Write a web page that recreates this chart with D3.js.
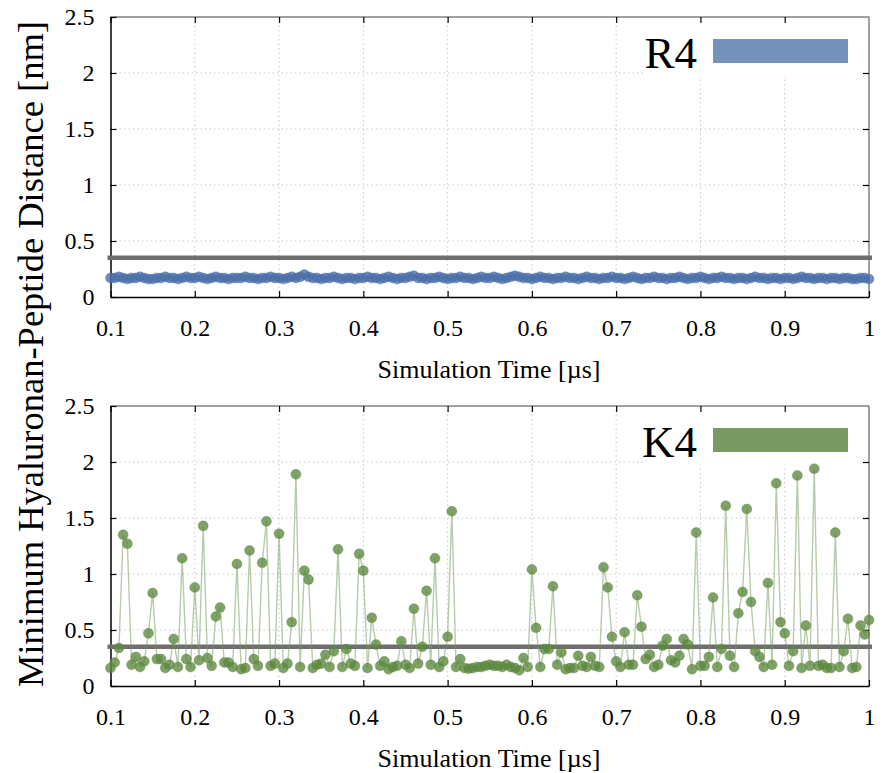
<!DOCTYPE html>
<html>
<head>
<meta charset="utf-8">
<script src="https://cdn.jsdelivr.net/npm/d3@7"></script>
<style>
  body { margin: 0; background: #fff; }
  svg text { font-family: "Liberation Serif", "DejaVu Serif", serif; fill: #000; }
</style>
</head>
<body>
<svg id="chart" width="883" height="773"></svg>
<script>
// Sampling of the trajectory: first frame at 0.1 µs, one frame every 0.005 µs
const startTime = 0.1;
const frameStep = 0.005;

const timeTicks = [0.1, 0.2, 0.3, 0.4, 0.5, 0.6, 0.7, 0.8, 0.9, 1];
const timeTickLabels = ["0.1", "0.2", "0.3", "0.4", "0.5", "0.6", "0.7", "0.8", "0.9", "1"];
const distTicks = [0, 0.5, 1, 1.5, 2, 2.5];
const distTickLabels = ["0", "0.5", "1", "1.5", "2", "2.5"];

// Contact cutoff [nm]
const contactCutoff = 0.35;

// Minimum hyaluronan–peptide distance [nm] per frame
const r4Distance = [
  0.17,0.17,0.18,0.17,0.16,0.17,0.17,0.18,0.17,0.16,
  0.16,0.17,0.17,0.18,0.17,0.17,0.16,0.17,0.18,0.17,
  0.17,0.18,0.17,0.16,0.17,0.18,0.17,0.17,0.16,0.17,
  0.17,0.17,0.18,0.17,0.17,0.16,0.17,0.17,0.18,0.17,
  0.17,0.16,0.17,0.18,0.17,0.18,0.20,0.18,0.17,0.17,
  0.16,0.17,0.17,0.18,0.17,0.16,0.17,0.17,0.16,0.17,
  0.17,0.18,0.17,0.17,0.16,0.17,0.18,0.17,0.16,0.17,
  0.17,0.18,0.19,0.17,0.17,0.16,0.17,0.17,0.18,0.17,
  0.16,0.17,0.17,0.18,0.17,0.17,0.16,0.17,0.18,0.17,
  0.17,0.18,0.17,0.16,0.17,0.18,0.19,0.18,0.17,0.17,
  0.16,0.17,0.18,0.17,0.17,0.16,0.17,0.17,0.18,0.17,
  0.17,0.16,0.17,0.18,0.17,0.17,0.16,0.17,0.17,0.18,
  0.17,0.17,0.16,0.17,0.18,0.17,0.16,0.17,0.17,0.18,
  0.17,0.17,0.16,0.17,0.17,0.18,0.17,0.16,0.17,0.17,
  0.18,0.17,0.16,0.17,0.17,0.18,0.17,0.17,0.16,0.17,
  0.17,0.16,0.17,0.18,0.17,0.17,0.16,0.17,0.17,0.16,
  0.17,0.17,0.16,0.17,0.18,0.17,0.17,0.16,0.17,0.17,
  0.16,0.17,0.17,0.16,0.17,0.17,0.16,0.16,0.17,0.17,
  0.16
];

const k4Distance = [
  0.16,0.21,0.34,1.35,1.27,0.19,0.26,0.17,0.22,0.47,
  0.83,0.24,0.24,0.16,0.19,0.42,0.17,1.14,0.24,0.17,
  0.88,0.23,1.43,0.25,0.18,0.62,0.70,0.21,0.21,0.17,
  1.09,0.15,0.16,1.21,0.24,0.18,1.10,1.47,0.18,0.20,
  1.36,0.16,0.20,0.57,1.89,0.17,1.03,0.95,0.16,0.19,
  0.20,0.28,0.17,0.31,1.22,0.17,0.33,0.20,0.18,1.18,
  1.03,0.16,0.61,0.37,0.18,0.22,0.15,0.17,0.18,0.40,
  0.19,0.16,0.69,0.20,0.35,0.85,0.19,1.14,0.17,0.22,
  0.44,1.56,0.17,0.24,0.16,0.155,0.16,0.17,0.17,0.18,
  0.19,0.18,0.18,0.17,0.19,0.17,0.16,0.14,0.25,0.17,
  1.04,0.52,0.17,0.33,0.33,0.89,0.19,0.30,0.15,0.16,
  0.16,0.27,0.18,0.17,0.26,0.18,0.17,1.06,0.88,0.44,
  0.22,0.17,0.48,0.19,0.19,0.81,0.53,0.24,0.28,0.17,
  0.19,0.36,0.42,0.23,0.21,0.27,0.42,0.37,0.15,1.37,
  0.18,0.18,0.26,0.79,0.17,0.33,1.61,0.27,0.17,0.65,
  0.84,1.58,0.75,0.31,0.26,0.17,0.92,0.19,1.81,0.57,
  0.47,0.18,0.31,1.88,0.16,0.54,0.18,1.94,0.18,0.19,
  0.16,0.16,1.37,0.17,0.31,0.60,0.16,0.17,0.54,0.46,
  0.59
];

const panels = [
  { name: "R4", values: r4Distance, top: 17,  marker: "#4a6ea8", line: "#4a6ea8", key: "#7592ba" },
  { name: "K4", values: k4Distance, top: 406, marker: "#5b883d", line: "#6f9957", key: "#7b9962" }
];

const svg = d3.select("#chart");
const left = 110.5, right = 869, plotH = 280;

const x = d3.scaleLinear().domain([0.1, 1]).range([left, right]);

panels.forEach(p => {
  const y = d3.scaleLinear().domain([0, 2.5]).range([p.top + plotH, p.top]);
  const g = svg.append("g");

  // dotted grid
  g.append("g").selectAll("line").data(timeTicks.slice(1, -1)).join("line")
    .attr("x1", d => x(d)).attr("x2", d => x(d))
    .attr("y1", y(0)).attr("y2", y(2.5))
    .attr("stroke", "#c8c8c8").attr("stroke-width", 1).attr("stroke-dasharray", "1.5,3");
  g.append("g").selectAll("line").data(distTicks.slice(1, -1)).join("line")
    .attr("x1", left).attr("x2", right)
    .attr("y1", d => y(d)).attr("y2", d => y(d))
    .attr("stroke", "#c8c8c8").attr("stroke-width", 1).attr("stroke-dasharray", "1.5,3");

  // key box background hides the grid behind it
  g.append("rect")
    .attr("x", 643).attr("y", p.top + 1).attr("width", right - 643).attr("height", 58)
    .attr("fill", "#fff");

  // frame: left / bottom in black, top / right in grey
  g.append("line").attr("x1", left).attr("x2", right).attr("y1", p.top).attr("y2", p.top)
    .attr("stroke", "#808080").attr("stroke-width", 1.5);
  g.append("line").attr("x1", right).attr("x2", right).attr("y1", p.top).attr("y2", p.top + plotH)
    .attr("stroke", "#808080").attr("stroke-width", 1.5);

  const xAxis = g.append("g").attr("transform", `translate(0,${p.top + plotH})`)
    .call(d3.axisBottom(x).tickValues(timeTicks).tickSizeInner(-6).tickSizeOuter(0).tickPadding(22)
      .tickFormat((d, i) => timeTickLabels[i]));
  xAxis.select(".domain").attr("stroke", "#000").attr("stroke-width", 1.5);
  xAxis.selectAll(".tick line").attr("stroke", "#000").attr("stroke-width", 1.2);
  xAxis.selectAll("text").attr("font-size", 24).attr("font-family", "Liberation Serif");

  const xTop = g.append("g").attr("transform", `translate(0,${p.top})`)
    .call(d3.axisTop(x).tickValues(timeTicks.slice(0, -1)).tickSizeInner(-6).tickSizeOuter(0).tickFormat(""));
  xTop.select(".domain").remove();
  xTop.selectAll(".tick line").attr("stroke", "#000").attr("stroke-width", 1.2);

  const yAxis = g.append("g").attr("transform", `translate(${left},0)`)
    .call(d3.axisLeft(y).tickValues(distTicks).tickSizeInner(-6).tickSizeOuter(0).tickPadding(16)
      .tickFormat((d, i) => distTickLabels[i]));
  yAxis.select(".domain").attr("stroke", "#000").attr("stroke-width", 1.5);
  yAxis.selectAll(".tick line").attr("stroke", "#000").attr("stroke-width", 1.2);
  yAxis.selectAll("text").attr("font-size", 24).attr("font-family", "Liberation Serif");

  const yRight = g.append("g").attr("transform", `translate(${right},0)`)
    .call(d3.axisRight(y).tickValues(distTicks.slice(1, -1)).tickSizeInner(-6).tickSizeOuter(0).tickFormat(""));
  yRight.select(".domain").remove();
  yRight.selectAll(".tick line").attr("stroke", "#000").attr("stroke-width", 1.2);

  // contact cutoff
  g.append("line")
    .attr("x1", left - 3).attr("x2", right + 3)
    .attr("y1", y(contactCutoff)).attr("y2", y(contactCutoff))
    .attr("stroke", "#6e6e6e").attr("stroke-width", 4.5);

  // trajectory
  const pts = p.values.map((v, i) => ({ t: startTime + i * frameStep, v }));
  g.append("path").datum(pts)
    .attr("fill", "none").attr("stroke", p.line).attr("stroke-width", 1.4).attr("stroke-opacity", 0.5)
    .attr("d", d3.line().x(d => x(d.t)).y(d => y(d.v)));
  g.append("g").selectAll("circle").data(pts).join("circle")
    .attr("cx", d => x(d.t)).attr("cy", d => y(d.v)).attr("r", 5)
    .attr("fill", p.marker).attr("fill-opacity", 0.78)
    .attr("stroke", p.marker).attr("stroke-opacity", 0.35).attr("stroke-width", 1);

  // key
  g.append("text").attr("x", 697).attr("y", p.top + 51)
    .attr("text-anchor", "end").attr("font-size", 45).text(p.name);
  g.append("rect").attr("x", 713).attr("y", p.top + 22).attr("width", 135).attr("height", 24)
    .attr("fill", p.key);

  // x title
  g.append("text").attr("x", 489).attr("y", p.top + plotH + 81)
    .attr("text-anchor", "middle").attr("font-size", 26).text("Simulation Time [µs]");
});

svg.append("text")
  .attr("transform", "translate(43,354) rotate(-90)")
  .attr("text-anchor", "middle").attr("font-size", 36.5)
  .text("Minimum Hyaluronan-Peptide Distance [nm]");
</script>
</body>
</html>
